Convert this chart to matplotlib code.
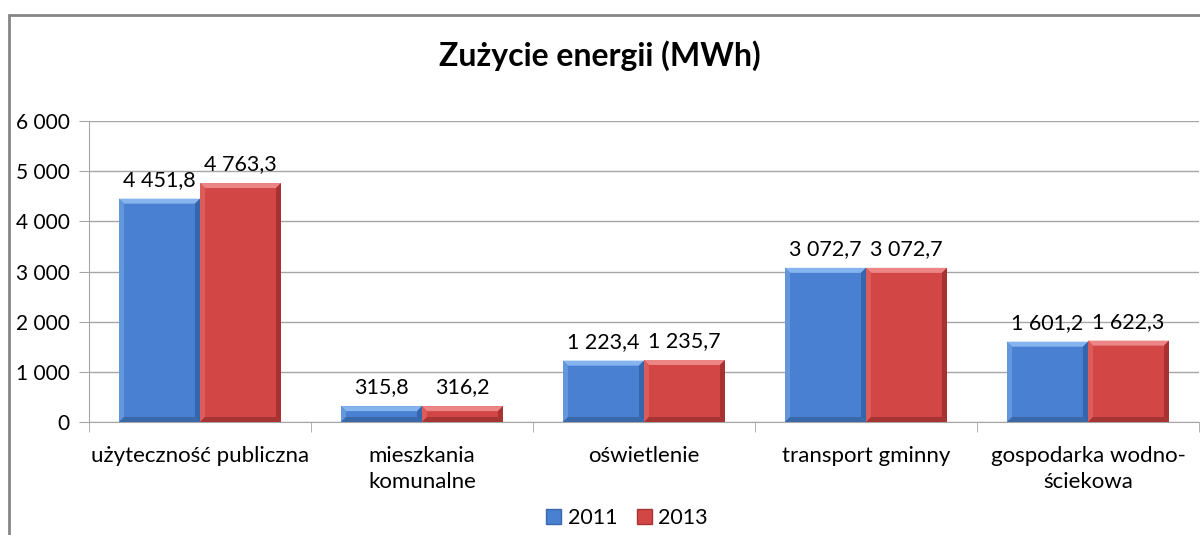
import matplotlib
matplotlib.use("Agg")
import matplotlib.pyplot as plt
from matplotlib.patches import Polygon, Rectangle
from matplotlib.ticker import FixedLocator, FuncFormatter
import numpy as np

categories = ["użyteczność publiczna", "mieszkania\nkomunalne", "oświetlenie",
              "transport gminny", "gospodarka wodno-\nściekowa"]
series_names = ["2011", "2013"]
values_2011 = [4451.8, 315.8, 1223.4, 3072.7, 1601.2]
values_2013 = [4763.3, 316.2, 1235.7, 3072.7, 1622.3]
y_ticks = [0, 1000, 2000, 3000, 4000, 5000, 6000]

plt.rcParams['font.family'] = ['Lato', 'DejaVu Sans']

W, H = 1200, 535
fig = plt.figure(figsize=(W / 100, H / 100), dpi=100)
ax = fig.add_axes([89 / W, (H - 422) / H, (1199 - 89) / W, (422 - 121) / H])

# chart border
fig.add_artist(Rectangle((8.5 / W, -0.1), 1.2, (H - 14.5) / H + 0.1,
                         transform=fig.transFigure, fill=False,
                         edgecolor="#868686", linewidth=2))

x = np.arange(len(categories))
bw = 81 / 222

styles = [
    dict(face="#4a80d2", top="#86b4ee", left="#6496dc", right="#3566ac", bottom="#3a69aa"),
    dict(face="#d24646", top="#ec8686", left="#dc5c5c", right="#a83232", bottom="#a53434"),
]

ymax = 6000
px_y = ymax / 301
bx = 5 / 222
by_base = 5 * px_y


def bevel_bar(x0, h, st):
    x1 = x0 + bw
    by = min(by_base, h / 2)
    ax.add_patch(Rectangle((x0, 0), bw, h, facecolor=st["face"], edgecolor="none", zorder=3))
    polys = [
        ([(x0, h), (x1, h), (x1 - bx, h - by), (x0 + bx, h - by)], st["top"]),
        ([(x0, 0), (x0, h), (x0 + bx, h - by), (x0 + bx, by)], st["left"]),
        ([(x1, 0), (x1, h), (x1 - bx, h - by), (x1 - bx, by)], st["right"]),
        ([(x0, 0), (x1, 0), (x1 - bx, by), (x0 + bx, by)], st["bottom"]),
    ]
    for pts, c in polys:
        ax.add_patch(Polygon(pts, closed=True, facecolor=c, edgecolor="none", zorder=3.1))


def fmt(v):
    return f"{v:,.1f}".replace(",", " ").replace(".", ",")


for i, (vals, st) in enumerate(zip([values_2011, values_2013], styles)):
    for xi, v in zip(x, vals):
        x0 = xi - bw + i * bw
        bevel_bar(x0, v, st)
        ax.text(x0 + bw / 2, v + 13 * px_y, fmt(v), ha="center", va="baseline",
                fontsize=15.5, color="black", zorder=5)

ax.set_xlim(-0.5, len(categories) - 0.5)
ax.set_ylim(0, ymax)
ax.yaxis.set_major_locator(FixedLocator(y_ticks))
ax.yaxis.set_major_formatter(FuncFormatter(lambda v, p: f"{int(v):,}".replace(",", " ")))
ax.grid(axis="y", color="#a6a6a6", linewidth=1, zorder=0)
ax.set_axisbelow(True)
for s in ["top", "right"]:
    ax.spines[s].set_visible(False)
ax.spines["left"].set_color("#a6a6a6")
ax.spines["bottom"].set_color("#a6a6a6")
ax.tick_params(axis="y", length=7, color="#a6a6a6", labelsize=15, pad=7)
ax.set_xticks(x)
ax.set_xticklabels(categories, fontsize=16, linespacing=1.4)
ax.tick_params(axis="x", length=0, pad=17)
ax.set_xticks(np.arange(len(categories) + 1) - 0.5, minor=True)
ax.tick_params(axis="x", which="minor", length=7, color="#a6a6a6")

fig.text(0.5, (H - 56) / H, "Zużycie energii (MWh)", ha="center", va="center",
         fontsize=23, fontweight="bold")

handles = [Rectangle((0, 0), 1, 1, facecolor=st["face"], edgecolor=st["bottom"]) for st in styles]
fig.legend(handles, series_names, loc="center", bbox_to_anchor=(627 / W, (H - 518) / H),
           ncol=2, frameon=False, fontsize=15.5, handlelength=0.7, handleheight=0.7,
           handletextpad=0.3, columnspacing=0.9)

fig.savefig("out.png", dpi=100)
